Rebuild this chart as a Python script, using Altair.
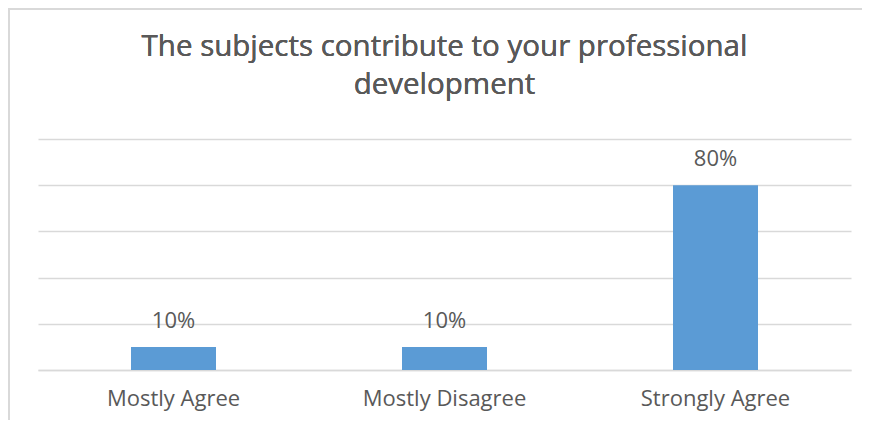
import altair as alt
import pandas as pd

categories = ["Mostly Agree", "Mostly Disagree", "Strongly Agree"]
values = [10, 10, 80]
labels = ["10%", "10%", "80%"]
title_lines = ["The subjects contribute to your professional", "development"]

df = pd.DataFrame({"cat": categories, "val": values, "lab": labels})

FONT = "Open Sans"
GRAY = "#595959"

base = alt.Chart(df)

bars = base.mark_bar(size=85, color="#5B9BD5").encode(
    x=alt.X("cat:N", sort=categories, title=None,
            scale=alt.Scale(paddingInner=0, paddingOuter=0),
            axis=alt.Axis(labelAngle=0, labelFontSize=22, labelColor=GRAY,
                          labelFont=FONT, labelPadding=18, ticks=False,
                          domain=True, domainColor="#d9d9d9", domainWidth=1.5)),
    y=alt.Y("val:Q", title=None,
            scale=alt.Scale(domain=[0, 100]),
            axis=alt.Axis(values=[0, 20, 40, 60, 80, 100], labels=False,
                          ticks=False, domain=False, grid=True,
                          gridColor="#d9d9d9", gridWidth=1.5)),
)

text = base.mark_text(dy=-26, fontSize=22, font=FONT, color=GRAY).encode(
    x=alt.X("cat:N", sort=categories),
    y=alt.Y("val:Q"),
    text="lab:N",
)

title1 = base.mark_text(fontSize=29.5, font=FONT, color=GRAY, baseline="alphabetic",
                        align="center").encode(
    x=alt.value(406.5), y=alt.value(-83), text=alt.value(title_lines[0])
)
title2 = base.mark_text(fontSize=29.5, font=FONT, color=GRAY, baseline="alphabetic",
                        align="center").encode(
    x=alt.value(406.5), y=alt.value(-45), text=alt.value(title_lines[1])
)

border_left = base.mark_rule(color="#d9d9d9", strokeWidth=1.5).encode(
    x=alt.value(-29), y=alt.value(-131), y2=alt.value(300)
)
border_top = base.mark_rule(color="#d9d9d9", strokeWidth=1.5).encode(
    x=alt.value(-29), x2=alt.value(824), y=alt.value(-130)
)

chart = alt.layer(bars, text, title1, title2, border_left, border_top).properties(
    width=813,
    height=231,
    autosize=alt.AutoSizeParams(type="none"),
    padding={"left": 30, "top": 131, "right": 11, "bottom": 50},
).configure_view(stroke=None)

chart.save("out.html", embed_options={"renderer": "svg", "actions": False})
